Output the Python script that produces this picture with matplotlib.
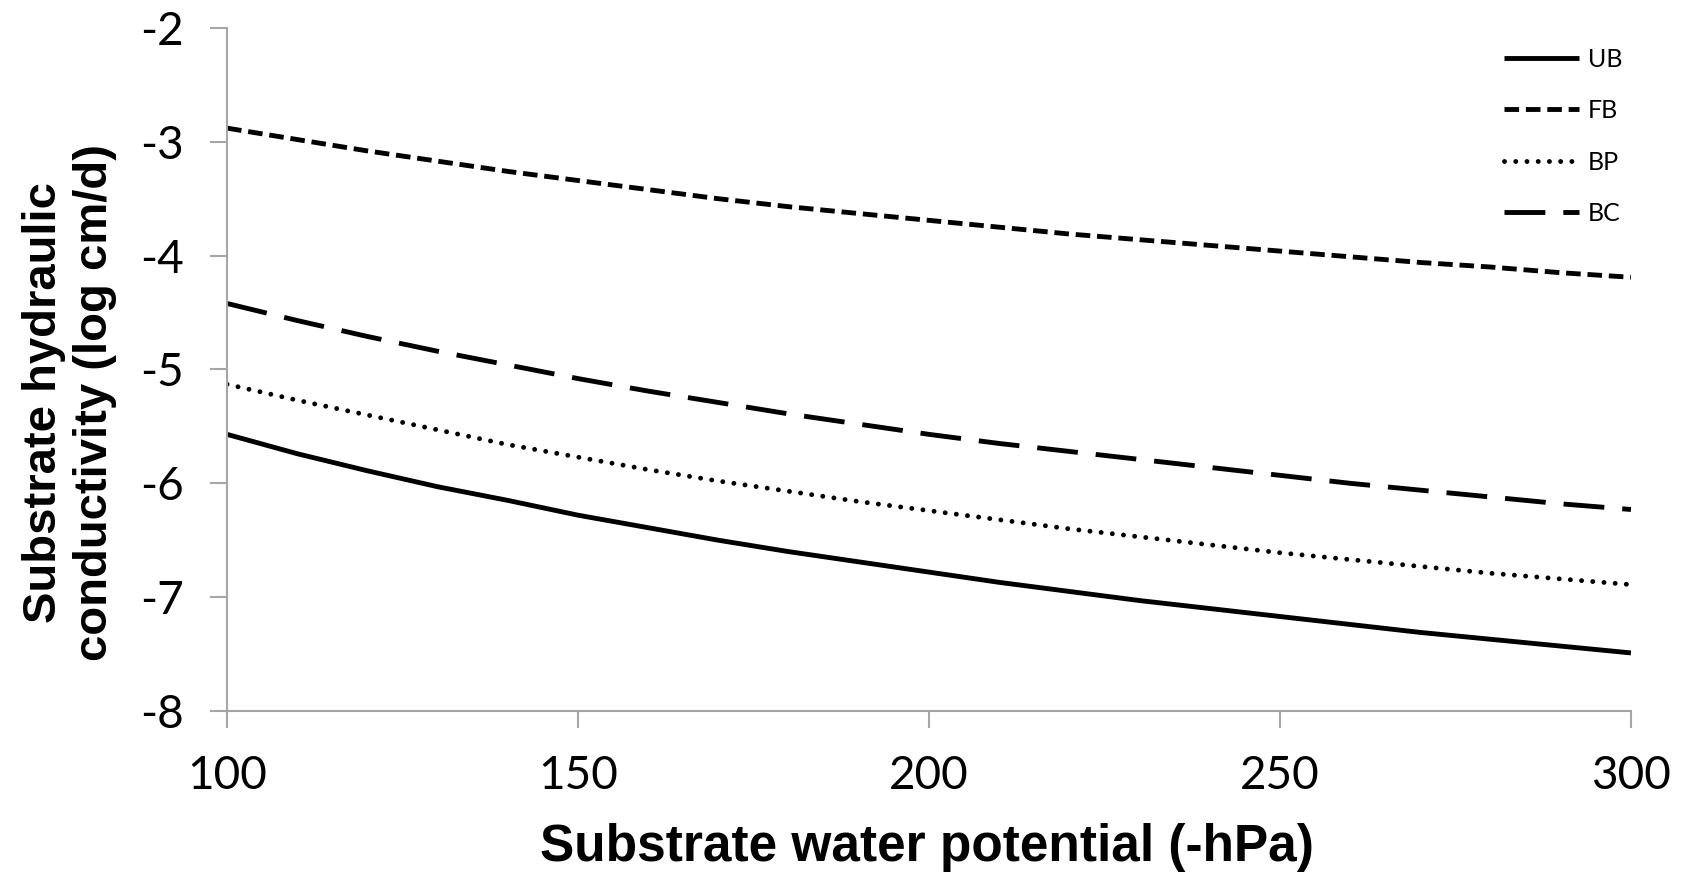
import matplotlib
matplotlib.use('Agg')
import matplotlib.pyplot as plt

plt.rcParams['axes.unicode_minus'] = False

# water potential (-hPa)
potential = [100, 110, 120, 130, 140, 150, 160, 170, 180, 190, 200,
             210, 220, 230, 240, 250, 260, 270, 280, 290, 300]

# log10 hydraulic conductivity (cm/d) per substrate
k_ub = [-5.57, -5.74, -5.89, -6.03, -6.15, -6.28, -6.39, -6.50, -6.60, -6.69, -6.78,
        -6.87, -6.95, -7.03, -7.10, -7.17, -7.24, -7.31, -7.37, -7.43, -7.49]
k_fb = [-2.88, -2.98, -3.08, -3.17, -3.26, -3.34, -3.42, -3.50, -3.57, -3.63, -3.69,
        -3.75, -3.81, -3.86, -3.91, -3.96, -4.01, -4.06, -4.10, -4.15, -4.19]
k_bp = [-5.13, -5.27, -5.40, -5.53, -5.66, -5.77, -5.88, -5.98, -6.07, -6.16, -6.24,
        -6.32, -6.40, -6.47, -6.54, -6.61, -6.67, -6.73, -6.79, -6.84, -6.89]
k_bc = [-4.42, -4.57, -4.71, -4.84, -4.96, -5.08, -5.19, -5.29, -5.39, -5.48, -5.57,
        -5.65, -5.72, -5.79, -5.86, -5.93, -6.00, -6.06, -6.12, -6.18, -6.23]

x_ticks = [100, 150, 200, 250, 300]
y_ticks = [-8, -7, -6, -5, -4, -3, -2]

TICK_FONT = 'Lato'
LABEL_FONT = 'Liberation Sans'
AXIS_GREY = '#a6a6a6'

fig = plt.figure(figsize=(16.88, 8.77), dpi=100)
ax = fig.add_axes([0.1345, 0.1893, 0.8317, 0.7788])

ax.plot(potential, k_ub, color='black', lw=3.5, solid_capstyle='butt', label='UB')
ax.plot(potential, k_fb, color='black', lw=3.5, linestyle=(0, (3.0, 1.4)),
        dash_capstyle='butt', label='FB')
ax.plot(potential, k_bp, color='black', lw=3.5, linestyle=(0, (0.01, 2.3)),
        dash_capstyle='round', label='BP')
ax.plot(potential, k_bc, color='black', lw=3.5, linestyle=(0, (8.4, 3.7)),
        dash_capstyle='butt', label='BC')

ax.set_xlim(100, 300)
ax.set_ylim(-8, -2)
ax.set_xticks(x_ticks)
ax.set_yticks(y_ticks)

for side in ['top', 'right']:
    ax.spines[side].set_visible(False)
for side in ['left', 'bottom']:
    ax.spines[side].set_color(AXIS_GREY)
    ax.spines[side].set_linewidth(1.5)

ax.tick_params(axis='both', direction='out', length=12, width=1.5,
               color=AXIS_GREY, labelsize=33)
ax.tick_params(axis='x', pad=20)
ax.tick_params(axis='y', pad=19)
for lbl in ax.get_xticklabels() + ax.get_yticklabels():
    lbl.set_fontfamily(TICK_FONT)

ax.set_xlabel('Substrate water potential (-hPa)', fontsize=37, fontweight='bold',
              family=LABEL_FONT)
ax.xaxis.set_label_coords(0.4986, -0.164)
ax.set_ylabel('Substrate hydraulic\nconductivity (log cm/d)', fontsize=34,
              fontweight='bold', family=LABEL_FONT, linespacing=1.2)
ax.yaxis.label.set_va('center')
ax.yaxis.set_label_coords(-0.112, 0.452)

leg = ax.legend(loc='upper right', bbox_to_anchor=(1.01, 1.004), frameon=False,
                handlelength=3.0, handletextpad=0.35, labelspacing=1.14,
                prop={'family': TICK_FONT, 'size': 18})

fig.savefig('out.png', dpi=100)
